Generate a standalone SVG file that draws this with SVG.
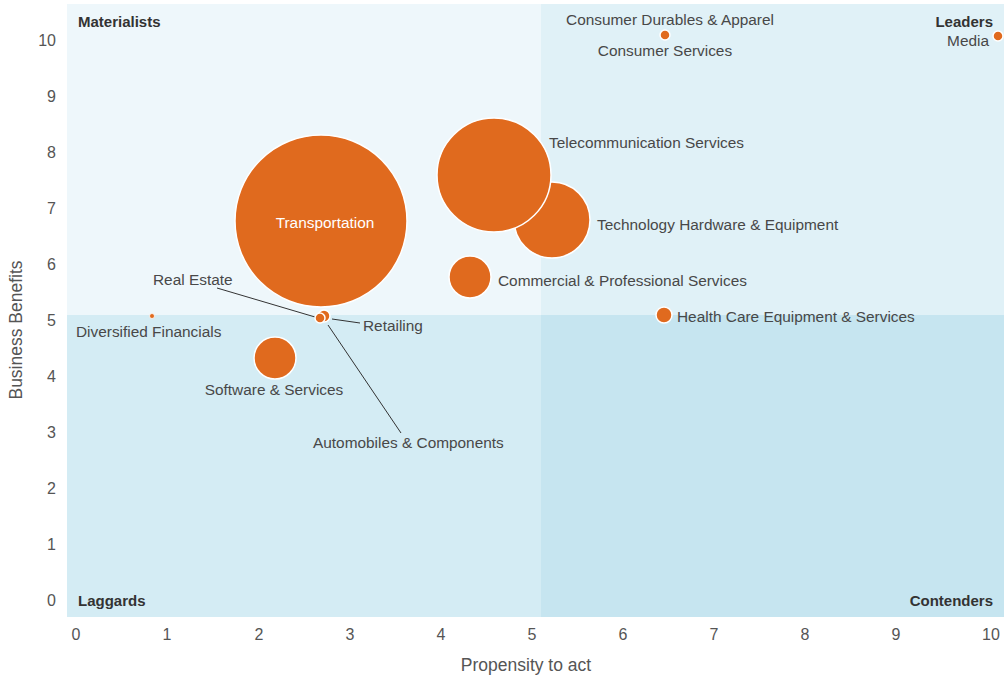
<svg xmlns="http://www.w3.org/2000/svg" width="1005" height="676" viewBox="0 0 1005 676">
<style>
text{font-family:"Liberation Sans",Arial,sans-serif}
.tick{font-size:16px;fill:#555}
.ax{font-size:17.5px;fill:#555}
.q{font-size:15px;font-weight:bold;fill:#333}
.lbl{font-size:15.4px;fill:#484848}
.b{fill:#e06a1e;stroke:#fff;stroke-width:1.5}
.ld{stroke:#333;stroke-width:1;fill:none}
</style>
<rect width="1005" height="676" fill="#fff"/>
<g id="quadrants">
<rect x="67" y="4" width="474" height="311" fill="#eef7fb"/>
<rect x="541" y="4" width="463" height="311" fill="#e0f1f7"/>
<rect x="67" y="315" width="474" height="302" fill="#d4ecf4"/>
<rect x="541" y="315" width="463" height="302" fill="#c6e5f0"/>
<text class="q" x="78" y="27">Materialists</text>
<text class="q" x="993" y="27" text-anchor="end">Leaders</text>
<text class="q" x="78" y="606">Laggards</text>
<text class="q" x="993" y="606" text-anchor="end">Contenders</text>
</g>
<g id="axes">
<g class="tick" text-anchor="end">
<text x="56" y="46">10</text><text x="56" y="102">9</text><text x="56" y="158">8</text><text x="56" y="214">7</text><text x="56" y="270">6</text><text x="56" y="326">5</text><text x="56" y="382">4</text><text x="56" y="438">3</text><text x="56" y="494">2</text><text x="56" y="550">1</text><text x="56" y="606">0</text>
</g>
<g class="tick" text-anchor="middle">
<text x="76" y="640">0</text><text x="167" y="640">1</text><text x="259" y="640">2</text><text x="350" y="640">3</text><text x="441" y="640">4</text><text x="532" y="640">5</text><text x="623" y="640">6</text><text x="714" y="640">7</text><text x="805" y="640">8</text><text x="896" y="640">9</text><text x="991" y="640">10</text>
</g>
<text class="ax" x="526" y="671" text-anchor="middle">Propensity to act</text>
<text class="ax" x="22" y="330" text-anchor="middle" transform="rotate(-90 22 330)">Business Benefits</text>
</g>
<g id="connectors">
<line class="ld" x1="217" y1="288" x2="315" y2="317"/>
<line class="ld" x1="332" y1="319" x2="360" y2="323"/>
<line class="ld" x1="328" y1="325" x2="401" y2="433"/>
</g>
<g id="transportation"><circle class="b" cx="321" cy="221" r="86"/><text class="lbl" x="325" y="228" text-anchor="middle" style="fill:#fff">Transportation</text></g>
<g id="technology"><circle class="b" cx="552" cy="220" r="38"/><text class="lbl" x="597" y="230">Technology Hardware &amp; Equipment</text></g>
<g id="telecom"><circle class="b" cx="494" cy="175" r="57"/><text class="lbl" x="549" y="148">Telecommunication Services</text></g>
<g id="commercial"><circle class="b" cx="470" cy="277" r="21"/><text class="lbl" x="498" y="286">Commercial &amp; Professional Services</text></g>
<g id="healthcare"><circle class="b" cx="664" cy="315" r="8"/><text class="lbl" x="677" y="322">Health Care Equipment &amp; Services</text></g>
<g id="consumer"><circle class="b" cx="665" cy="35" r="5"/><text class="lbl" x="670" y="25" text-anchor="middle">Consumer Durables &amp; Apparel</text><text class="lbl" x="665" y="56" text-anchor="middle">Consumer Services</text></g>
<g id="media"><circle class="b" cx="998" cy="36" r="5"/><text class="lbl" x="989" y="46" text-anchor="end">Media</text></g>
<g id="software"><circle class="b" cx="275" cy="358" r="21"/><text class="lbl" x="274" y="395" text-anchor="middle">Software &amp; Services</text></g>
<g id="retailing"><circle class="b" cx="324" cy="316" r="6"/><text class="lbl" x="363" y="331">Retailing</text></g>
<g id="realestate"><circle class="b" cx="320" cy="318" r="5"/><text class="lbl" x="153" y="285">Real Estate</text></g>
<g id="automobiles"><text class="lbl" x="313" y="448">Automobiles &amp; Components</text></g>
<g id="diversified"><circle cx="152" cy="316" r="2.5" fill="#e06a1e" stroke="#fff" stroke-width="0.8"/><text class="lbl" x="76" y="337">Diversified Financials</text></g>
</svg>
